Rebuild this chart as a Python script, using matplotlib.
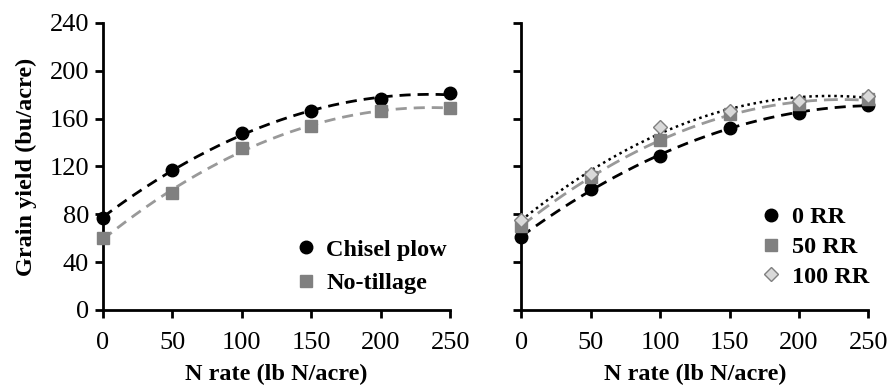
import numpy as np
import matplotlib.pyplot as plt

plt.rcParams['font.family'] = ['Liberation Serif', 'DejaVu Serif']

# N rate (lb N/acre)
n_rate = [0, 50, 100, 150, 200, 250]

# left panel: tillage
chisel = [77, 117, 148, 166, 176, 181]
no_till = [60, 98, 135, 154, 166, 169]

# right panel: residue removal
rr0 = [61, 101, 129, 152, 165, 171]
rr50 = [70, 111, 142, 164, 172, 176]
rr100 = [75, 114, 153, 166, 175, 179]

y_ticks = [0, 40, 80, 120, 160, 200, 240]


def quad_curve(x, y):
	"""
	Quadratic fit used for the trend line of each series
	"""
	coef = np.polyfit(x, y, 2)
	xs = np.linspace(0, 250, 200)
	return xs, np.polyval(coef, xs)


def style_axes(ax, show_labels):
	ax.set_xlim(0, 250)
	ax.set_ylim(0, 240)
	ax.set_xticks(n_rate)
	ax.set_yticks(y_ticks)
	ax.spines['top'].set_visible(False)
	ax.spines['right'].set_visible(False)
	ax.spines['left'].set_linewidth(2)
	ax.spines['bottom'].set_linewidth(2)
	ax.tick_params(direction='out', width=2, length=6, labelsize=19)
	ax.tick_params(axis='x', pad=10)
	ax.tick_params(axis='y', pad=4)
	if not show_labels:
		ax.tick_params(axis='y', labelleft=False)
	ax.set_xlabel('N rate (lb N/acre)', fontsize=17.5, fontweight='bold', labelpad=7)
	for s in ax.spines.values():
		s.set_clip_on(False)


fig = plt.figure(figsize=(8.88, 3.87), dpi=100)
ax1 = fig.add_axes([0.116, 0.199, 0.391, 0.742])
ax2 = fig.add_axes([0.587, 0.199, 0.391, 0.742])

# left panel
xs, ys = quad_curve(n_rate, chisel)
ax1.plot(xs, ys, color='black', ls=(0, (4, 2.5)), lw=2, clip_on=False)
xs, ys = quad_curve(n_rate, no_till)
ax1.plot(xs, ys, color='#999999', ls=(0, (4, 2.5)), lw=2, clip_on=False)
ax1.plot(n_rate, chisel, 'o', color='black', ms=9, ls='none', label='Chisel plow', clip_on=False, zorder=3)
ax1.plot(n_rate, no_till, 's', color='#808080', ms=9, ls='none', label='No-tillage', clip_on=False, zorder=3)
style_axes(ax1, True)
ax1.set_ylabel('Grain yield (bu/acre)', fontsize=17.5, fontweight='bold', labelpad=9)
ax1.legend(loc='lower right', frameon=False, prop={'weight': 'bold', 'size': 17.5},
	handletextpad=0.35, handlelength=1.0, borderaxespad=0.3, labelspacing=0.47,
	bbox_to_anchor=(1.04, -0.004))

# right panel
xs, ys = quad_curve(n_rate, rr0)
ax2.plot(xs, ys, color='black', ls=(0, (4, 2.5)), lw=2, clip_on=False)
xs, ys = quad_curve(n_rate, rr50)
ax2.plot(xs, ys, color='#999999', ls=(0, (5, 2.5)), lw=2, clip_on=False)
xs, ys = quad_curve(n_rate, rr100)
ax2.plot(xs, ys, color='black', ls=(0, (1, 1.5)), lw=1.8, clip_on=False)
ax2.plot(n_rate, rr0, 'o', color='black', ms=9, ls='none', label='0 RR', clip_on=False, zorder=3)
ax2.plot(n_rate, rr50, 's', color='#808080', ms=9, ls='none', label='50 RR', clip_on=False, zorder=3)
ax2.plot(n_rate, rr100, 'D', mfc='#d9d9d9', mec='#808080', mew=1, ms=7.5, ls='none',
	label='100 RR', clip_on=False, zorder=4)
style_axes(ax2, False)
ax2.legend(loc='lower right', frameon=False, prop={'weight': 'bold', 'size': 17.5},
	handletextpad=0.35, handlelength=1.0, borderaxespad=0.3, labelspacing=0.32,
	bbox_to_anchor=(1.05, 0.018))

fig.savefig('out.png', dpi=100)
